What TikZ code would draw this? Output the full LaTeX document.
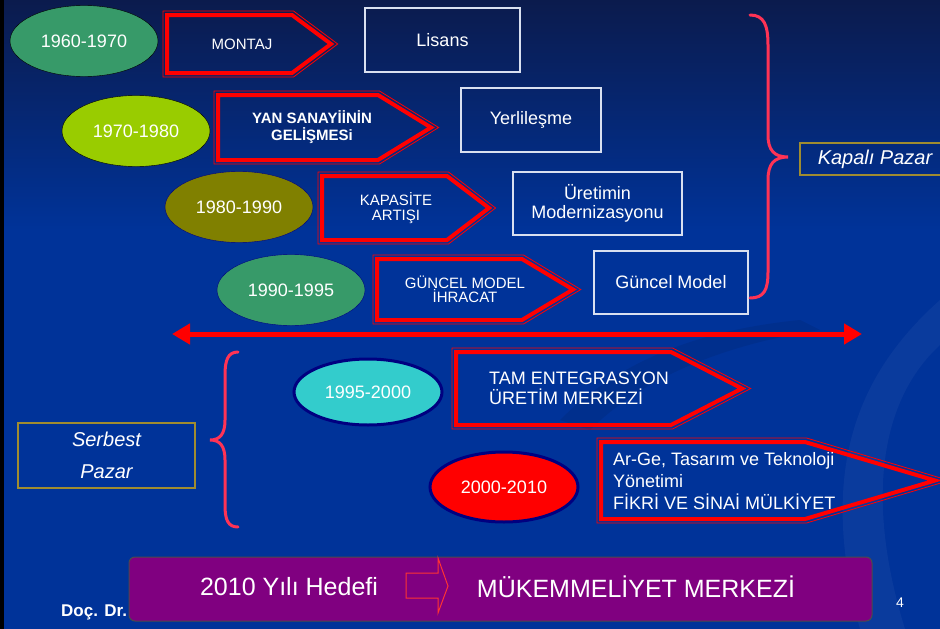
\documentclass[tikz,border=0pt]{standalone}
\usepackage{fontspec}
\setmainfont{Liberation Sans}
\usetikzlibrary{shapes.geometric,arrows.meta}

\definecolor{zemin}{HTML}{003399}
\definecolor{zeminust}{HTML}{0B1B4D}
\definecolor{kirmizi}{HTML}{FF0000}
\definecolor{kusak}{HTML}{FF3355}
\definecolor{lacivert}{HTML}{000080}
\definecolor{altin}{HTML}{A08C30}
\definecolor{mor}{HTML}{800080}
\definecolor{yesil}{HTML}{379A69}
\definecolor{fistik}{HTML}{99CC00}
\definecolor{zeytin}{HTML}{808000}
\definecolor{turkuaz}{HTML}{33CCCC}

\tikzset{
	yil/.style={ellipse, minimum width=148pt, minimum height=71pt, inner sep=0pt, text=white, font=\fontsize{18}{20}\selectfont},
	kutu/.style={draw=white!85!zemin, line width=1.2pt, text=white, align=center, inner sep=0pt, font=\fontsize{18}{19}\selectfont},
	okkalin/.style={draw=kirmizi, line width=4pt, line join=miter},
	okince/.style={draw=kirmizi, line width=0.8pt, line join=miter},
	okyazi/.style={text=white, align=center, inner sep=0pt, font=\fontsize{15}{15}\selectfont},
	uzunyazi/.style={text=white, align=left, anchor=west, inner sep=0pt},
	parantez/.style={draw=kusak, line width=3pt, line cap=round},
	pazar/.style={draw=altin, line width=1.2pt, text=white, inner sep=0pt, align=center, font=\itshape\fontsize{20}{32}\selectfont},
	ciftok/.style={draw=kirmizi, line width=5pt, {Triangle[length=18pt,width=20pt]}-{Triangle[length=18pt,width=20pt]}},
	hedefkutu/.style={draw=black!70, fill=mor, line width=1pt, rounded corners=6pt, minimum width=743pt, minimum height=64pt},
}

% x1, y1, x2, y2, uc
\newcommand{\okkutu}[5]{%
	\draw[okince] (#1-4,#2-4) -- (#3+1.5,#2-4) -- ({#5+4*veclen(#5-#3,(#4-#2)/2)/((#4-#2)/2)},{(#2+#4)/2}) -- (#3+1.5,#4+4) -- (#1-4,#4+4) -- cycle;
	\draw[okkalin] (#1,#2) -- (#3,#2) -- (#5,{(#2+#4)/2}) -- (#3,#4) -- (#1,#4) -- cycle;
}

\begin{document}
\begin{tikzpicture}[x=1pt, y=-1pt]
	\path[use as bounding box] (0,0) rectangle (940,629);
	\clip (0,0) rectangle (940,629);
	\fill[zemin] (0,0) rectangle (940,629);
	\shade[top color=zeminust, bottom color=zemin] (0,0) rectangle (940,230);
	\fill[white, opacity=0.04] (940,300) .. controls (850,380) and (820,480) .. (860,629) -- (905,629) .. controls (865,500) and (880,400) .. (940,345) -- cycle;
	\fill[black, opacity=0.08] (560,420) .. controls (620,360) and (700,330) .. (800,320) -- (820,330) .. controls (720,345) and (640,380) .. (590,430) -- cycle;
	\fill[black] (0,0) rectangle (4,629);

	\node[yil, draw=black, fill=yesil] (y60) at (84,41) {1960-1970};
	\node[yil, draw=black, fill=fistik] (y70) at (136,131) {1970-1980};
	\node[yil, draw=lacivert, fill=zeytin] (y80) at (239,207) {1980-1990};
	\node[yil, draw=lacivert, fill=yesil] (y90) at (291,290) {1990-1995};
	\node[yil, draw=lacivert, line width=3pt, fill=turkuaz, minimum height=66pt] (y95) at (368,392) {1995-2000};
	\node[yil, draw=lacivert, line width=3pt, fill=kirmizi, minimum height=70pt] (y00) at (504,487) {2000-2010};

	\okkutu{167}{15}{292}{73}{331}
	\okkutu{218}{95}{378}{160}{431}
	\okkutu{322}{176}{447}{240}{489}
	\okkutu{377}{259}{522}{320}{573}
	\okkutu{456}{352}{671}{425}{742}
	\okkutu{601}{442}{805}{519}{935}

	\node[okyazi] (montaj) at (242,44) {MONTAJ};
	\node[okyazi, font=\bfseries\fontsize{15}{17}\selectfont] (yansanayi) at (312,127) {YAN SANAYİİNİN\\GELİŞMESi};
	\node[okyazi] (kapasite) at (396,208) {KAPASİTE\\ARTIŞI};
	\node[okyazi, font=\fontsize{15}{14}\selectfont] (ihracat) at (465,289) {GÜNCEL MODEL\\İHRACAT};
	\node[uzunyazi, font=\fontsize{18}{20}\selectfont] (entegrasyon) at (489,388) {TAM ENTEGRASYON\\ÜRETİM MERKEZİ};
	\node[uzunyazi, font=\fontsize{18}{22}\selectfont] (arge) at (613,481) {Ar-Ge, Tasarım ve Teknoloji\\Yönetimi\\FİKRİ VE SİNAİ MÜLKİYET};

	\node[kutu, minimum width=155pt, minimum height=64pt] (lisans) at (442.5,40) {Lisans};
	\node[kutu, minimum width=140pt, minimum height=64pt] (yerli) at (531,120) {Yerlileşme};
	\node[kutu, minimum width=169pt, minimum height=63pt] (modern) at (597.5,203.5) {Üretimin\\Modernizasyonu};
	\node[kutu, minimum width=154pt, minimum height=63pt] (guncel) at (671,282.5) {Güncel Model};

	\draw[parantez] (750,15) .. controls (764,15) and (768,25) .. (768,45) -- (768,135)
		.. controls (768,150) and (774,157) .. (788,157)
		.. controls (774,157) and (768,164) .. (768,180) -- (768,272)
		.. controls (768,290) and (764,298) .. (750,298);
	\node[pazar, minimum width=150pt, minimum height=32pt] (kapali) at (875,159) {Kapalı Pazar};

	\coordinate (solok) at (172,334);
	\coordinate (sagok) at (862,334);
	\draw[ciftok] (solok) -- (sagok);

	\draw[parantez] (238,352) .. controls (228,352) and (225,360) .. (225,375) -- (225,420)
		.. controls (225,434) and (220,440) .. (210,440)
		.. controls (220,440) and (225,446) .. (225,460) -- (225,505)
		.. controls (225,520) and (228,527) .. (238,527);
	\node[pazar, minimum width=177pt, minimum height=65pt] (serbest) at (106.5,455.5) {Serbest\\Pazar};

	\node[anchor=west, inner sep=0pt, text=white, font=\bfseries\fontsize{17}{17}\selectfont] (doc) at (61,612) {Doç. Dr.};
	\node[text=white, font=\fontsize{14}{14}\selectfont] (sayfa) at (900,603) {4};
	\node[hedefkutu] (hedef) at (500.5,589) {};
	\node[text=white, font=\fontsize{25}{25}\selectfont] (yil2010) at (289,587) {2010 Yılı Hedefi};
	\draw[draw=red!80!white, line width=1pt] (406,573) -- (438,573) -- (438,558) -- (448,586) -- (438,613) -- (438,598) -- (406,598) -- cycle;
	\node[text=white, font=\fontsize{25}{25}\selectfont] (mukemmel) at (636,587) {MÜKEMMELİYET MERKEZİ};
\end{tikzpicture}
\end{document}
